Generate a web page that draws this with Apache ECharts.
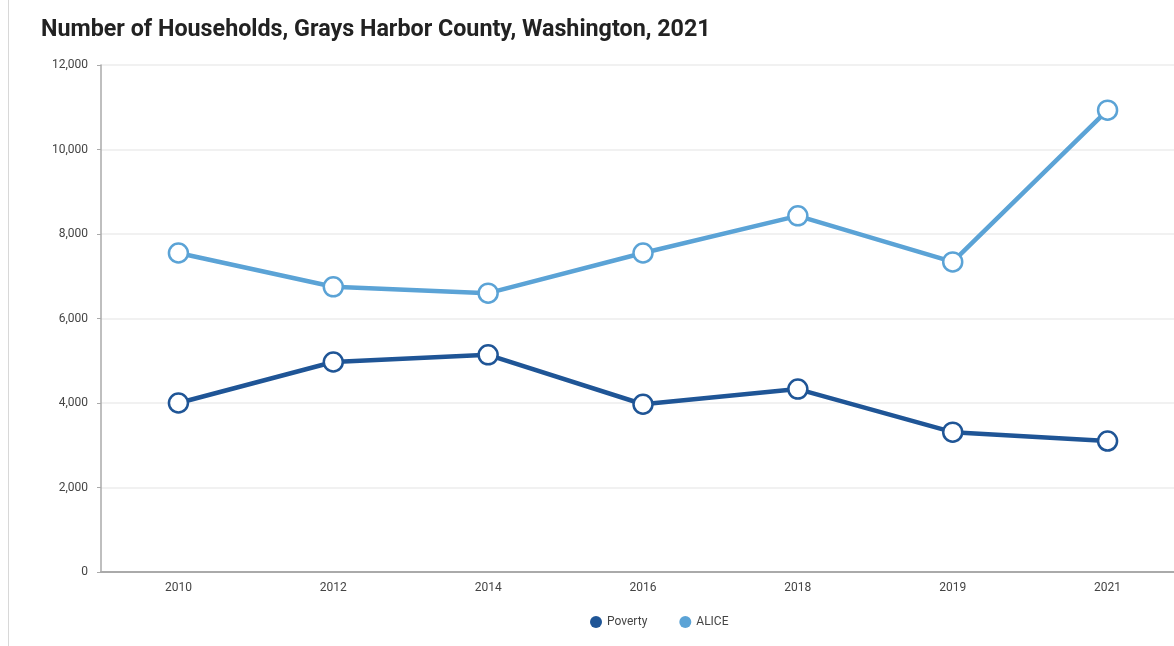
<!DOCTYPE html>
<html>
<head>
<meta charset="utf-8">
<script src="https://cdn.jsdelivr.net/npm/echarts@6/dist/echarts.min.js"></script>
<style>
  html, body { margin: 0; padding: 0; background: #fff; }
  #chart { width: 1174px; height: 646px; }
  .edge { position: absolute; left: 8px; top: 0; width: 1px; height: 646px; background: #d8d8d8; }
</style>
</head>
<body>
<div class="edge"></div>
<div id="chart"></div>
<script>
  let years = ['2010', '2012', '2014', '2016', '2018', '2019', '2021']
  let poverty = [4000, 4970, 5140, 3970, 4330, 3310, 3100]
  let alice = [7550, 6750, 6600, 7550, 8430, 7340, 10930]
  let yTicks = { min: 0, max: 12000, interval: 2000 }

  let dom = echarts.init(document.getElementById('chart'))
  let lineSeries = (name, data, color) => ({
    name: name,
    type: 'line',
    data: data,
    symbol: 'circle',
    symbolSize: 19,
    showAllSymbol: true,
    lineStyle: { width: 4.5, color: color },
    itemStyle: { color: '#fff', borderColor: color, borderWidth: 2.5 }
  })
  let option = {
    animation: false,
    title: {
      text: 'Number of Households, Grays Harbor County, Washington, 2021',
      left: 36,
      top: 14,
      textStyle: { fontFamily: 'Roboto', fontWeight: 'bold', fontSize: 23.3, color: '#222' }
    },
    legend: {
      top: 611,
      left: 585,
      icon: 'circle',
      itemWidth: 12,
      itemHeight: 12,
      itemGap: 32,
      textStyle: { fontFamily: 'Roboto', fontSize: 12, color: '#444' },
      data: [
        { name: 'Poverty', itemStyle: { color: '#1f5596', borderWidth: 0 } },
        { name: 'ALICE', itemStyle: { color: '#5ba3d6', borderWidth: 0 } }
      ]
    },
    grid: { left: 101, top: 65, width: 1084, height: 507, outerBoundsMode: 'none' },
    xAxis: {
      type: 'category',
      data: years,
      boundaryGap: true,
      axisLine: { lineStyle: { color: '#aaa', width: 2 } },
      axisTick: { show: false },
      axisLabel: { fontFamily: 'Roboto', fontSize: 12, color: '#444', margin: 10 }
    },
    yAxis: {
      type: 'value',
      min: yTicks.min,
      max: yTicks.max,
      interval: yTicks.interval,
      axisLine: { show: true, lineStyle: { color: '#aaa', width: 1.5 } },
      axisTick: { show: true, length: 4, lineStyle: { color: '#aaa' } },
      axisLabel: {
        fontFamily: 'Roboto', fontSize: 12, color: '#444', margin: 13,
        formatter: v => v.toLocaleString('en-US')
      },
      splitLine: { lineStyle: { color: '#ececec', width: 1.5 } }
    },
    series: [
      lineSeries('Poverty', poverty, '#1f5596'),
      lineSeries('ALICE', alice, '#5ba3d6')
    ]
  }
  dom.setOption(option)
  window.addEventListener('resize', dom.resize)
</script>
</body>
</html>
